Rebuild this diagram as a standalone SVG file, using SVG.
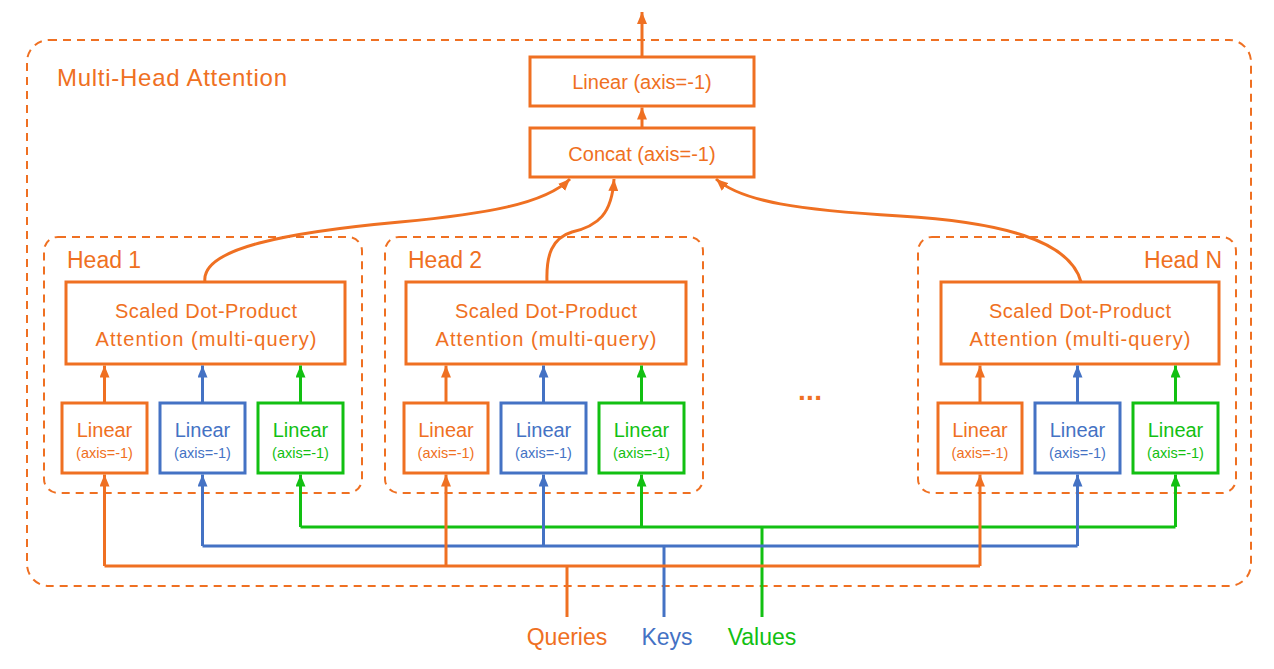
<svg xmlns="http://www.w3.org/2000/svg" width="1274" height="669" viewBox="0 0 1274 669">
<defs>
<style>
.o{fill:none;stroke:#EF7022;stroke-width:3}
.b{fill:none;stroke:#4472C4;stroke-width:3}
.g{fill:none;stroke:#12C012;stroke-width:3}
.box{fill:#fff;stroke-width:3}
.dash{fill:none;stroke:#EF7022;stroke-width:2;stroke-dasharray:8 6}
text{font-family:"Liberation Sans",Arial,sans-serif}
.to{fill:#EF7022}.tb{fill:#4472C4}.tg{fill:#12C012}
.big{font-size:23px}
.mid{font-size:20px;text-anchor:middle}
.sm{font-size:14.5px;text-anchor:middle}
.ctr{text-anchor:middle}
</style>
<marker id="ao" markerUnits="userSpaceOnUse" markerWidth="12" markerHeight="10" refX="12" refY="5" orient="auto"><path d="M0,0 L12,5 L0,10 z" fill="#EF7022"/></marker>
<marker id="ab" markerUnits="userSpaceOnUse" markerWidth="12" markerHeight="10" refX="12" refY="5" orient="auto"><path d="M0,0 L12,5 L0,10 z" fill="#4472C4"/></marker>
<marker id="ag" markerUnits="userSpaceOnUse" markerWidth="12" markerHeight="10" refX="12" refY="5" orient="auto"><path d="M0,0 L12,5 L0,10 z" fill="#12C012"/></marker>
</defs>

<g id="mha">
<rect class="dash" x="27" y="40" width="1224" height="546" rx="22"/>
<text class="to" x="57" y="86" font-size="24" textLength="230">Multi-Head Attention</text>
</g>

<g id="linear-out">
<rect class="box" stroke="#EF7022" x="530" y="57" width="224" height="49"/>
<text class="to mid" x="642" y="89">Linear (axis=-1)</text>
</g>
<g id="concat">
<rect class="box" stroke="#EF7022" x="530" y="128" width="224" height="49"/>
<text class="to mid" x="642" y="161">Concat (axis=-1)</text>
</g>

<g id="head1">
<rect class="dash" x="44" y="237" width="318" height="256" rx="14"/>
<text class="to big" x="67" y="268">Head 1</text>
</g>
<g id="head2">
<rect class="dash" x="385" y="237" width="318" height="256" rx="14"/>
<text class="to big" x="408" y="268">Head 2</text>
</g>
<g id="headN">
<rect class="dash" x="918" y="237" width="318" height="256" rx="14"/>
<text class="to big" x="1222" y="268" text-anchor="end">Head N</text>
</g>

<g id="sdpa1">
<rect class="box" stroke="#EF7022" x="66" y="282" width="279" height="82"/>
<text class="to mid" x="206" y="318" textLength="182">Scaled Dot-Product</text>
<text class="to mid" x="206" y="346" textLength="221">Attention (multi-query)</text>
</g>
<g id="sdpa2">
<rect class="box" stroke="#EF7022" x="406" y="282" width="280" height="82"/>
<text class="to mid" x="546" y="318" textLength="182">Scaled Dot-Product</text>
<text class="to mid" x="546" y="346" textLength="221">Attention (multi-query)</text>
</g>
<g id="sdpaN">
<rect class="box" stroke="#EF7022" x="941" y="282" width="278" height="82"/>
<text class="to mid" x="1080" y="318" textLength="182">Scaled Dot-Product</text>
<text class="to mid" x="1080" y="346" textLength="221">Attention (multi-query)</text>
</g>

<g id="q1"><rect class="box" stroke="#EF7022" x="62" y="403" width="85" height="70"/><text class="to mid" x="104.5" y="437">Linear</text><text class="to sm" x="104.5" y="458">(axis=-1)</text></g>
<g id="k1"><rect class="box" stroke="#4472C4" x="160" y="403" width="85" height="70"/><text class="tb mid" x="202.5" y="437">Linear</text><text class="tb sm" x="202.5" y="458">(axis=-1)</text></g>
<g id="v1"><rect class="box" stroke="#12C012" x="258" y="403" width="85" height="70"/><text class="tg mid" x="300.5" y="437">Linear</text><text class="tg sm" x="300.5" y="458">(axis=-1)</text></g>

<g id="q2"><rect class="box" stroke="#EF7022" x="404" y="403" width="84" height="70"/><text class="to mid" x="446" y="437">Linear</text><text class="to sm" x="446" y="458">(axis=-1)</text></g>
<g id="k2"><rect class="box" stroke="#4472C4" x="501" y="403" width="85" height="70"/><text class="tb mid" x="543.5" y="437">Linear</text><text class="tb sm" x="543.5" y="458">(axis=-1)</text></g>
<g id="v2"><rect class="box" stroke="#12C012" x="599" y="403" width="85" height="70"/><text class="tg mid" x="641.5" y="437">Linear</text><text class="tg sm" x="641.5" y="458">(axis=-1)</text></g>

<g id="qN"><rect class="box" stroke="#EF7022" x="938" y="403" width="84" height="70"/><text class="to mid" x="980" y="437">Linear</text><text class="to sm" x="980" y="458">(axis=-1)</text></g>
<g id="kN"><rect class="box" stroke="#4472C4" x="1035" y="403" width="85" height="70"/><text class="tb mid" x="1077.5" y="437">Linear</text><text class="tb sm" x="1077.5" y="458">(axis=-1)</text></g>
<g id="vN"><rect class="box" stroke="#12C012" x="1133" y="403" width="85" height="70"/><text class="tg mid" x="1175.5" y="437">Linear</text><text class="tg sm" x="1175.5" y="458">(axis=-1)</text></g>

<g id="ellipsis"><text class="to ctr" x="810" y="400" font-size="28" font-weight="bold" textLength="24">...</text></g>

<g id="inputs">
<text class="to ctr big" x="567" y="645">Queries</text>
<text class="tb ctr big" x="667" y="645">Keys</text>
<text class="tg ctr big" x="762" y="645">Values</text>
</g>

<g id="connectors">
<path class="o" d="M642,57 V12" marker-end="url(#ao)"/>
<path class="o" d="M642,128 V107.5" marker-end="url(#ao)"/>
<path class="o" d="M205,282 C200,248 290,232 400,222 C485,214 545,204 570,179" marker-end="url(#ao)"/>
<path class="o" d="M547,282 C546,255 552,238 572,232 C598,226 612,214 614,179" marker-end="url(#ao)"/>
<path class="o" d="M1081,282 C1070,240 1000,222 900,216 C800,210 742,202 716,179" marker-end="url(#ao)"/>

<path class="o" d="M104.5,403 V365.5" marker-end="url(#ao)"/>
<path class="b" d="M202.5,403 V365.5" marker-end="url(#ab)"/>
<path class="g" d="M300.5,403 V365.5" marker-end="url(#ag)"/>
<path class="o" d="M446,403 V365.5" marker-end="url(#ao)"/>
<path class="b" d="M543.5,403 V365.5" marker-end="url(#ab)"/>
<path class="g" d="M641.5,403 V365.5" marker-end="url(#ag)"/>
<path class="o" d="M980,403 V365.5" marker-end="url(#ao)"/>
<path class="b" d="M1077.5,403 V365.5" marker-end="url(#ab)"/>
<path class="g" d="M1175.5,403 V365.5" marker-end="url(#ag)"/>

<path class="g" d="M300.5,527 H1175.5"/>
<path class="g" d="M762,617 V527"/>
<path class="g" d="M300.5,527 V474.5" marker-end="url(#ag)"/>
<path class="g" d="M641.5,527 V474.5" marker-end="url(#ag)"/>
<path class="g" d="M1175.5,527 V474.5" marker-end="url(#ag)"/>

<path class="b" d="M202.5,546 H1077.5"/>
<path class="b" d="M664,617 V546"/>
<path class="b" d="M202.5,546 V474.5" marker-end="url(#ab)"/>
<path class="b" d="M543.5,546 V474.5" marker-end="url(#ab)"/>
<path class="b" d="M1077.5,546 V474.5" marker-end="url(#ab)"/>

<path class="o" d="M104.5,566 H980"/>
<path class="o" d="M567,617 V566"/>
<path class="o" d="M104.5,566 V474.5" marker-end="url(#ao)"/>
<path class="o" d="M446,566 V474.5" marker-end="url(#ao)"/>
<path class="o" d="M980,566 V474.5" marker-end="url(#ao)"/>
</g>
</svg>
